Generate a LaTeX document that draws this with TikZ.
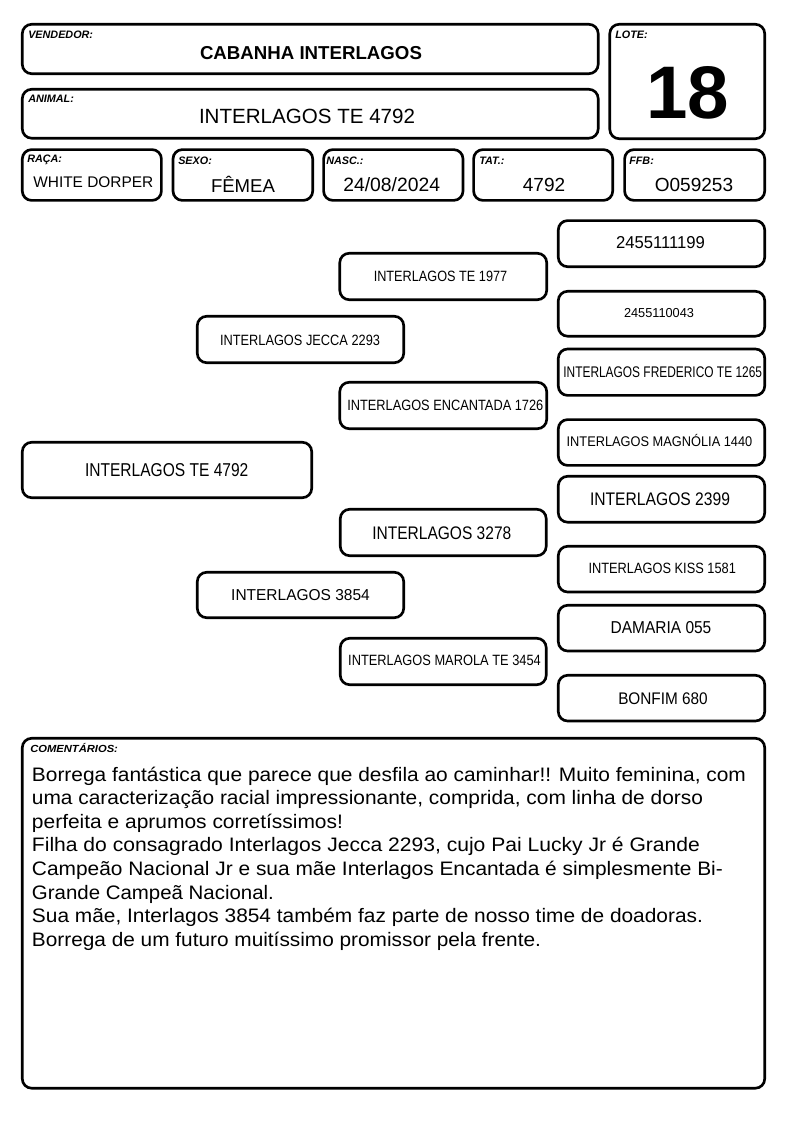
\documentclass[tikz,border=0pt]{standalone}
\usepackage{fontspec}
\setmainfont{Liberation Sans}
\usepackage{graphicx}
\newdimen\pxu \pxu=0.75pt
\newcommand\fs[1]{\fontsize{#1\pxu}{#1\pxu}\selectfont}
\newcommand\fitw[2]{\resizebox{#1\pxu}{\height}{#2}}
\newcommand\bx[5]{\coordinate (#1a) at (#2+1.3,#3+1.3); \coordinate (#1b) at (#4-1.3,#5-1.3); \draw[frame] (#1a) rectangle (#1b);}
\begin{document}
\begin{tikzpicture}[x=0.75pt,y=-0.75pt,
  frame/.style={draw=black, line width=2pt, rounded corners=7pt},
  lbl/.style={anchor=base west, inner sep=0pt, font={\fs{10.8}\bfseries\itshape}},
  val/.style={anchor=base, inner sep=0pt},
  cmt/.style={anchor=base west, inner sep=0pt, font={\fs{19.5}}}]
\fill[white] (0,0) rectangle (794,1123);
\useasboundingbox (0,0) rectangle (794,1123);

% header boxes
\bx{vend}{21}{23}{599.5}{75}
\bx{lote}{608.5}{23}{766}{140}
\bx{anim}{21}{88}{599.5}{139.5}
\bx{raca}{21}{148.3}{162.7}{201.7}
\bx{sexo}{171.7}{148.3}{314}{201.7}
\bx{nasc}{322.3}{148.3}{464.3}{201.7}
\bx{tat}{472.3}{148.3}{614}{201.7}
\bx{ffb}{623.3}{148.3}{766}{201.7}

\node[lbl] (lvend) at (28,39) {VENDEDOR:};
\node[lbl] (lanim) at (28,103) {ANIMAL:};
\node[lbl] (llote) at (615,39) {LOTE:};
\node[lbl] (lraca) at (27,163) {RAÇA:};
\node[lbl] (lsexo) at (178,165) {SEXO:};
\node[lbl] (lnasc) at (326,165) {NASC.:};
\node[lbl] (ltat) at (479,165) {TAT.:};
\node[lbl] (lffb) at (629,165) {FFB:};

\node[val, font={\fs{18.7}\bfseries}] (tvend) at (311,60) {\fitw{222}{CABANHA INTERLAGOS}};
\node[val, font={\fs{20.6}}] (tanim) at (307,123.3) {\fitw{216}{INTERLAGOS TE 4792}};
\node[val, font={\fs{74.5}\bfseries}] (tlote) at (687.5,118.3) {18};
\node[val, font={\fs{15.4}}] (traca) at (93.3,187.7) {\fitw{120}{WHITE DORPER}};
\node[val, font={\fs{18.6}}] (tsexo) at (243,192.5) {\fitw{64}{FÊMEA}};
\node[val, font={\fs{19.3}}] (tnasc) at (391.7,191.7) {\fitw{96.7}{24/08/2024}};
\node[val, font={\fs{19}}] (ttat) at (544,192) {\fitw{42.3}{4792}};
\node[val, font={\fs{19}}] (tffb) at (694,192) {\fitw{78.3}{O059253}};

% pedigree boxes
\bx{p0}{21}{441}{313}{499}
\bx{p1}{196}{315}{405}{364}
\bx{p2}{196}{571}{405}{619}
\bx{p3}{338.5}{252}{548}{301}
\bx{p4}{338.5}{381}{548}{430}
\bx{p5}{339}{508}{547.5}{557}
\bx{p6}{339}{637}{547.5}{686}
\bx{r1}{557}{219.3}{766}{268}
\bx{r2}{557}{290}{766}{337.5}
\bx{r3}{557}{347.7}{766}{396.7}
\bx{r4}{557}{418.3}{766}{466.7}
\bx{r5}{557}{475}{766}{523.5}
\bx{r6}{557}{545}{766}{593.3}
\bx{r7}{557}{604}{766}{652.3}
\bx{r8}{557}{674}{766}{722.3}

\node[val, font={\fs{18.6}}] (t0) at (166.7,476.7) {\fitw{163.3}{INTERLAGOS TE 4792}};
\node[val, font={\fs{14.9}}] (t1) at (300,345) {\fitw{160}{INTERLAGOS JECCA 2293}};
\node[val, font={\fs{15.8}}] (t2) at (300.5,600.7) {\fitw{138.6}{INTERLAGOS 3854}};
\node[val, font={\fs{14.9}}] (t3) at (440.5,281.7) {\fitw{133.5}{INTERLAGOS TE 1977}};
\node[val, font={\fs{14.9}}] (t4) at (445.3,410) {\fitw{196}{INTERLAGOS ENCANTADA 1726}};
\node[val, font={\fs{18.2}}] (t5) at (441.8,539) {\fitw{139}{INTERLAGOS 3278}};
\node[val, font={\fs{14.9}}] (t6) at (444.5,665.7) {\fitw{192.6}{INTERLAGOS MAROLA TE 3454}};
\node[val, font={\fs{17.2}}] (s1) at (660.5,248.3) {\fitw{89}{2455111199}};
\node[val, font={\fs{13}}] (s2) at (659,317.7) {\fitw{70}{2455110043}};
\node[val, font={\fs{15.4}}] (s3) at (662.7,377.3) {\fitw{198.7}{INTERLAGOS FREDERICO TE 1265}};
\node[val, font={\fs{14}}] (s4) at (659.5,446) {\fitw{185.7}{INTERLAGOS MAGNÓLIA 1440}};
\node[val, font={\fs{18.2}}] (s5) at (660,505.7) {\fitw{140}{INTERLAGOS 2399}};
\node[val, font={\fs{14.9}}] (s6) at (662.2,573.3) {\fitw{147.4}{INTERLAGOS KISS 1581}};
\node[val, font={\fs{17.2}}] (s7) at (661,633.3) {\fitw{100.7}{DAMARIA 055}};
\node[val, font={\fs{16.8}}] (s8) at (663,704.3) {\fitw{89.5}{BONFIM 680}};

% comments
\bx{cm}{21}{737}{766}{1089.5}
\node[lbl, font={\fs{10.3}\bfseries\itshape}] (lcm) at (30,752.5) {\fitw{87.7}{COMENTÁRIOS:}};
\node[cmt] (c1) at (31.7,781) {\fitw{714}{Borrega fantástica que parece que desfila ao caminhar!! Muito feminina, com}};
\node[cmt] (c2) at (31.7,804.6) {\fitw{671}{uma caracterização racial impressionante, comprida, com linha de dorso}};
\node[cmt] (c3) at (31.7,828.2) {\fitw{311}{perfeita e aprumos corretíssimos!}};
\node[cmt] (c4) at (31.7,851.8) {\fitw{668}{Filha do consagrado Interlagos Jecca 2293, cujo Pai Lucky Jr é Grande}};
\node[cmt] (c5) at (31.7,875.4) {\fitw{691}{Campeão Nacional Jr e sua mãe Interlagos Encantada é simplesmente Bi-}};
\node[cmt] (c6) at (31.7,899) {\fitw{242}{Grande Campeã Nacional.}};
\node[cmt] (c7) at (31.7,922.6) {\fitw{671}{Sua mãe, Interlagos 3854 também faz parte de nosso time de doadoras.}};
\node[cmt] (c8) at (31.7,946.2) {\fitw{509}{Borrega de um futuro muitíssimo promissor pela frente.}};
\end{tikzpicture}
\end{document}
